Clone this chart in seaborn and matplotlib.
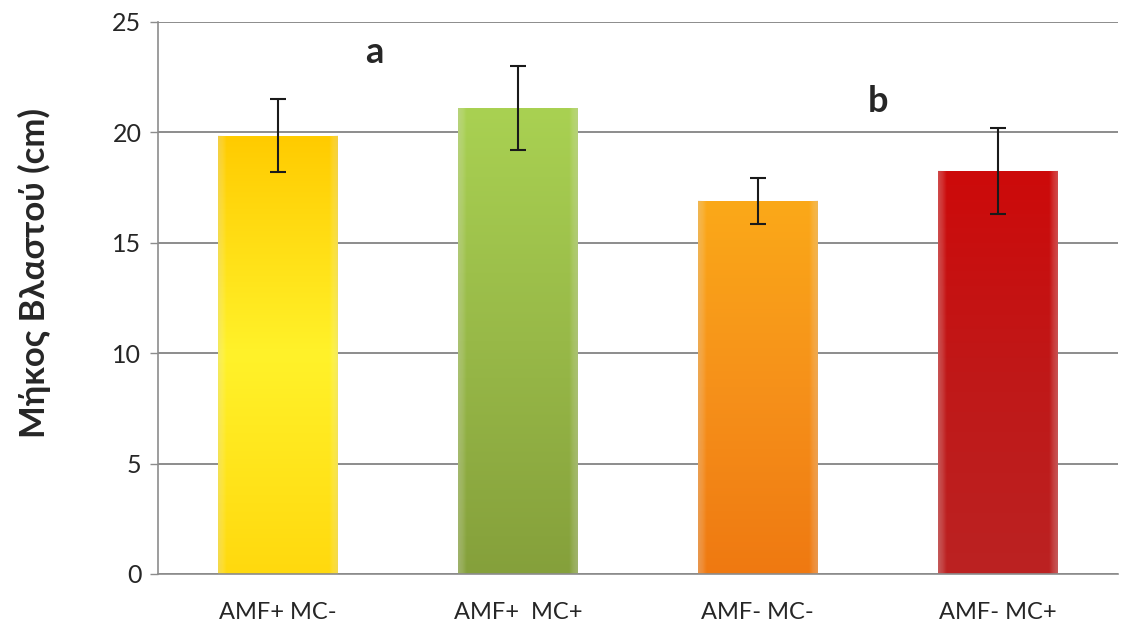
import numpy as np
import pandas as pd
import matplotlib
matplotlib.use("Agg")
import matplotlib.pyplot as plt
import seaborn as sns
from matplotlib.colors import LinearSegmentedColormap

# data
treatments = ['AMF+ MC-', 'AMF+  MC+', 'AMF- MC-', 'AMF- MC+']
shoot_len = [19.85, 21.1, 16.9, 18.25]
sem = [1.65, 1.9, 1.05, 1.95]
letters = ['a', 'b']
letter_x = [0.4, 2.5]
letter_y = [23.6, 21.4]

# top / middle / bottom shades of each bar
shades = [['#FFCB00', '#FFF22A', '#FFD90E'],
          ['#A9D152', '#98B948', '#85A03B'],
          ['#FBA918', '#F6911A', '#EF7911'],
          ['#CD0A0A', '#C01818', '#BB2222']]

sns.set_style('white')
plt.rcParams['font.family'] = ['Lato', 'DejaVu Sans']

df = pd.DataFrame({'treatment': treatments, 'length': shoot_len})

fig = plt.figure(figsize=(11.21, 6.21), dpi=100)
ax = fig.add_axes([0.141, 0.0757, 0.856, 0.889])
ax.yaxis.grid(True, color='#8c8c8c', linewidth=1.4)
ax.set_axisbelow(True)

sns.barplot(data=df, x='treatment', y='length', hue='treatment',
            palette=[s[1] for s in shades], width=0.5, legend=False,
            edgecolor='none', ax=ax)

# vertical gradient fill inside each bar
for patch, cols in zip(ax.patches, shades):
    x0, y0 = patch.get_x(), patch.get_y()
    w, h = patch.get_width(), patch.get_height()
    cmap = LinearSegmentedColormap.from_list('g', cols[::-1])
    grad = np.linspace(0, 1, 256).reshape(-1, 1)
    im = ax.imshow(grad, cmap=cmap, origin='lower', aspect='auto',
                   extent=[x0, x0 + w, y0, y0 + h], zorder=2)
    im.set_clip_path(patch)
    # soft darker edges on the sides
    edge = np.concatenate([np.linspace(0.25, 0, 8), np.zeros(84), np.linspace(0, 0.25, 8)])
    shade = np.tile(edge, (2, 1))
    ax.imshow(shade, cmap='Greys', vmin=0, vmax=1, alpha=shade * 1.2,
              aspect='auto', extent=[x0, x0 + w, y0, y0 + h], zorder=2.1)

ax.errorbar(x=np.arange(len(treatments)), y=shoot_len, yerr=sem, fmt='none',
            ecolor='#1a1a1a', elinewidth=1.5, capsize=6, capthick=1.5, zorder=3)

for t, lx, ly in zip(letters, letter_x, letter_y):
    ax.text(lx, ly, t, ha='center', va='center', fontsize=26, fontweight='bold')

ax.set_xlim(-0.5, 3.5)
ax.set_ylim(0, 25)
ax.set_yticks([0, 5, 10, 15, 20, 25])
ax.set_xlabel('')
ax.set_ylabel('Μήκος Βλαστού (cm)', fontsize=25, fontweight='bold', va='center')
ax.yaxis.set_label_coords(-0.129, 0.545)

ax.set_xticks(np.arange(-0.5, 4, 1), minor=True)
ax.tick_params(axis='x', which='major', length=0, labelsize=17, pad=20)
ax.tick_params(axis='x', which='minor', length=7, color='#8c8c8c', width=1, direction='out')
ax.tick_params(axis='y', length=6, color='#8c8c8c', width=1, labelsize=18, pad=6, left=True)

for side in ['top', 'right']:
    ax.spines[side].set_visible(False)
for side in ['left', 'bottom']:
    ax.spines[side].set_color('#8c8c8c')
    ax.spines[side].set_linewidth(1.2)

fig.savefig('out.png', dpi=100)
